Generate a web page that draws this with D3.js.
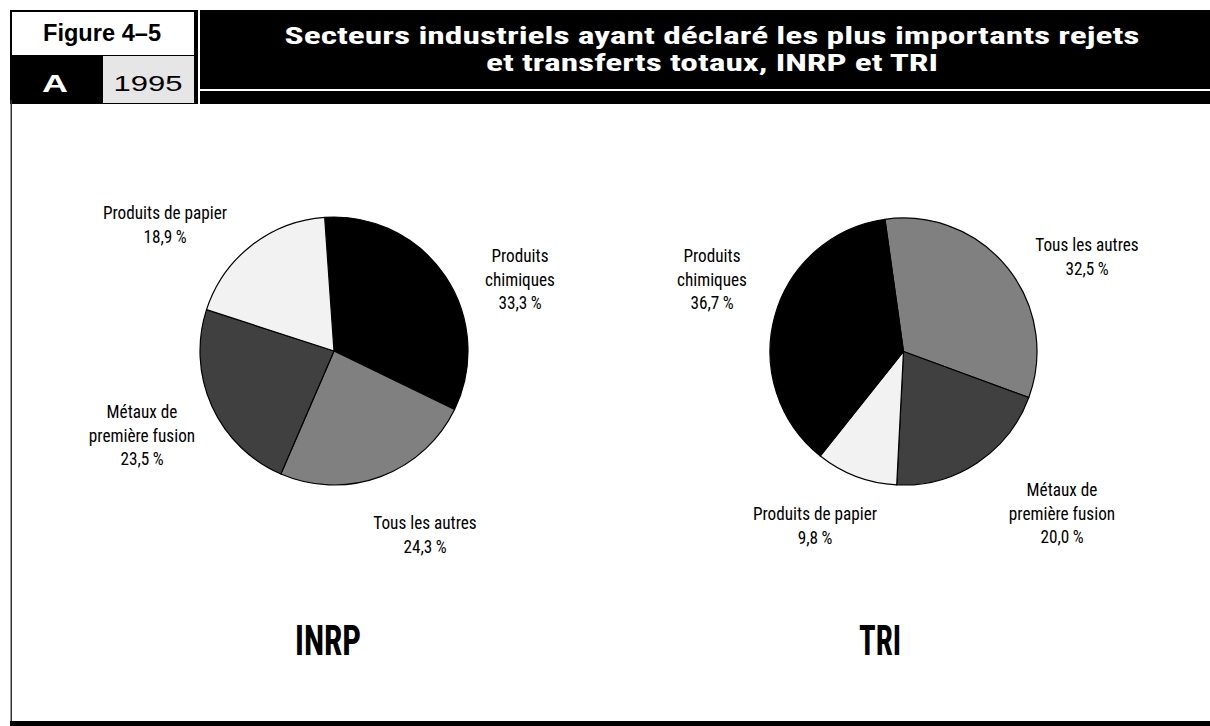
<!DOCTYPE html>
<html>
<head>
<meta charset="utf-8">
<script src="https://cdn.jsdelivr.net/npm/d3@7"></script>
<style>
html,body{margin:0;padding:0;background:#fff;}
svg{display:block;}
</style>
</head>
<body>
<svg id="chart" width="1210" height="726"></svg>
<script>
// ---------- data ----------
const inrpCategories = ["Produits chimiques", "Tous les autres", "Métaux de première fusion", "Produits de papier"];
const inrpValues = [33.3, 24.3, 23.5, 18.9];
const triCategories = ["Tous les autres", "Métaux de première fusion", "Produits de papier", "Produits chimiques"];
const triValues = [32.5, 20.0, 9.8, 36.7];
const titleLines = ["Secteurs industriels ayant déclaré les plus importants rejets", "et transferts totaux, INRP et TRI"];
const figureLabel = "Figure 4–5";
const panelLetter = "A";
const yearLabel = "1995";
const chartNames = ["INRP", "TRI"];

// ---------- styles / layout ----------
const colorOf = {
  "Produits chimiques": "#000000",
  "Tous les autres": "#808080",
  "Métaux de première fusion": "#404040",
  "Produits de papier": "#f2f2f2"
};
const labelLines = {
  "Produits chimiques": ["Produits", "chimiques"],
  "Tous les autres": ["Tous les autres"],
  "Métaux de première fusion": ["Métaux de", "première fusion"],
  "Produits de papier": ["Produits de papier"]
};
const NARROW = "'Liberation Sans Narrow','Roboto Condensed','DejaVu Sans Condensed','Liberation Sans',Arial,sans-serif";
const BOLD = "'Liberation Sans','Arial',sans-serif";

const svg = d3.select("#chart");

function fitText(g, str, x, y, width, attrs) {
  const t = g.append("text").attr("x", x).attr("y", y).text(str);
  Object.entries(attrs).forEach(([k, v]) => t.style(k, v));
  t.attr("textLength", width).attr("lengthAdjust", "spacingAndGlyphs");
  return t;
}

// ---------- header ----------
const hdr = svg.append("g");
hdr.append("rect").attr("x", 10).attr("y", 10).attr("width", 1200).attr("height", 94).attr("fill", "#000");
hdr.append("rect").attr("x", 12).attr("y", 12).attr("width", 182).attr("height", 43).attr("fill", "#fff");
hdr.append("rect").attr("x", 103).attr("y", 56).attr("width", 91).attr("height", 47).attr("fill", "#e6e6e6");
hdr.append("rect").attr("x", 198).attr("y", 10).attr("width", 2).attr("height", 94).attr("fill", "#fff");
hdr.append("rect").attr("x", 200).attr("y", 89).attr("width", 1010).attr("height", 2).attr("fill", "#fff");

fitText(hdr, figureLabel, 102, 41, 118, {"font-family": BOLD, "font-weight": "bold", "font-size": "23px", "text-anchor": "middle", "fill": "#000"});
fitText(hdr, panelLetter, 55, 92, 26, {"font-family": BOLD, "font-weight": "bold", "font-size": "23px", "text-anchor": "middle", "fill": "#fff"});
fitText(hdr, yearLabel, 148, 91, 69, {"font-family": BOLD, "font-size": "22px", "text-anchor": "middle", "fill": "#000"});

fitText(hdr, titleLines[0], 712, 44, 855, {"font-family": NARROW, "font-weight": "bold", "font-size": "24px", "text-anchor": "middle", "fill": "#fff"});
fitText(hdr, titleLines[1], 712, 71, 452, {"font-family": NARROW, "font-weight": "bold", "font-size": "24px", "text-anchor": "middle", "fill": "#fff"});

// ---------- frame ----------
svg.append("rect").attr("x", 10.5).attr("y", 100).attr("width", 1.5).attr("height", 622).attr("fill", "#333");
svg.append("rect").attr("x", 10).attr("y", 721).attr("width", 1200).attr("height", 5).attr("fill", "#000");

// ---------- label width calibration ----------
const probe = svg.append("text").style("font-family", NARROW).style("font-size", "18px").text("Produits de papier");
const kx = 124 / probe.node().getComputedTextLength();
probe.remove();

function fmt(v) { return d3.format(".1f")(v).replace(".", ",") + "\u2009%"; }

// ---------- pies ----------
const charts = [
  {cats: inrpCategories, vals: inrpValues, cx: 334, cy: 351, r: 134, start: -4,
   labels: {
     "Produits de papier": [165, 219],
     "Produits chimiques": [520, 262],
     "Métaux de première fusion": [142, 418],
     "Tous les autres": [425, 529]
   }, nameX: 328, nameW: 66},
  {cats: triCategories, vals: triValues, cx: 903.5, cy: 351.5, r: 133.5, start: -8,
   labels: {
     "Produits chimiques": [712, 262],
     "Tous les autres": [1087, 251],
     "Métaux de première fusion": [1062, 496],
     "Produits de papier": [815, 520]
   }, nameX: 880, nameW: 42}
];

charts.forEach((c, ci) => {
  const data = c.cats.map((k, i) => ({cat: k, val: c.vals[i]}));
  const s0 = c.start * Math.PI / 180;
  const pie = d3.pie().value(d => d.val).sort(null).startAngle(s0).endAngle(s0 + 2 * Math.PI);
  const arc = d3.arc().innerRadius(0).outerRadius(c.r);
  const g = svg.append("g").attr("transform", `translate(${c.cx},${c.cy})`);
  g.selectAll("path").data(pie(data)).join("path")
    .attr("d", arc)
    .attr("fill", d => colorOf[d.data.cat])
    .attr("stroke", "#000")
    .attr("stroke-width", 1.2)
    .attr("stroke-linejoin", "round");

  const lg = svg.append("g");
  data.forEach(d => {
    const [lx, ly] = c.labels[d.cat];
    const lines = labelLines[d.cat].concat([fmt(d.val)]);
    lines.forEach((ln, li) => {
      const t = lg.append("text")
        .attr("x", lx).attr("y", ly + li * 23.5)
        .style("font-family", NARROW).style("font-size", "18px")
        .style("text-anchor", "middle").style("fill", "#000")
        .text(ln);
      const w = t.node().getComputedTextLength();
      t.attr("textLength", w * kx).attr("lengthAdjust", "spacingAndGlyphs");
    });
  });

  fitText(svg, chartNames[ci], c.nameX, 655, c.nameW, {"font-family": NARROW, "font-weight": "bold", "font-size": "42px", "text-anchor": "middle", "fill": "#000"});
});
</script>
</body>
</html>
